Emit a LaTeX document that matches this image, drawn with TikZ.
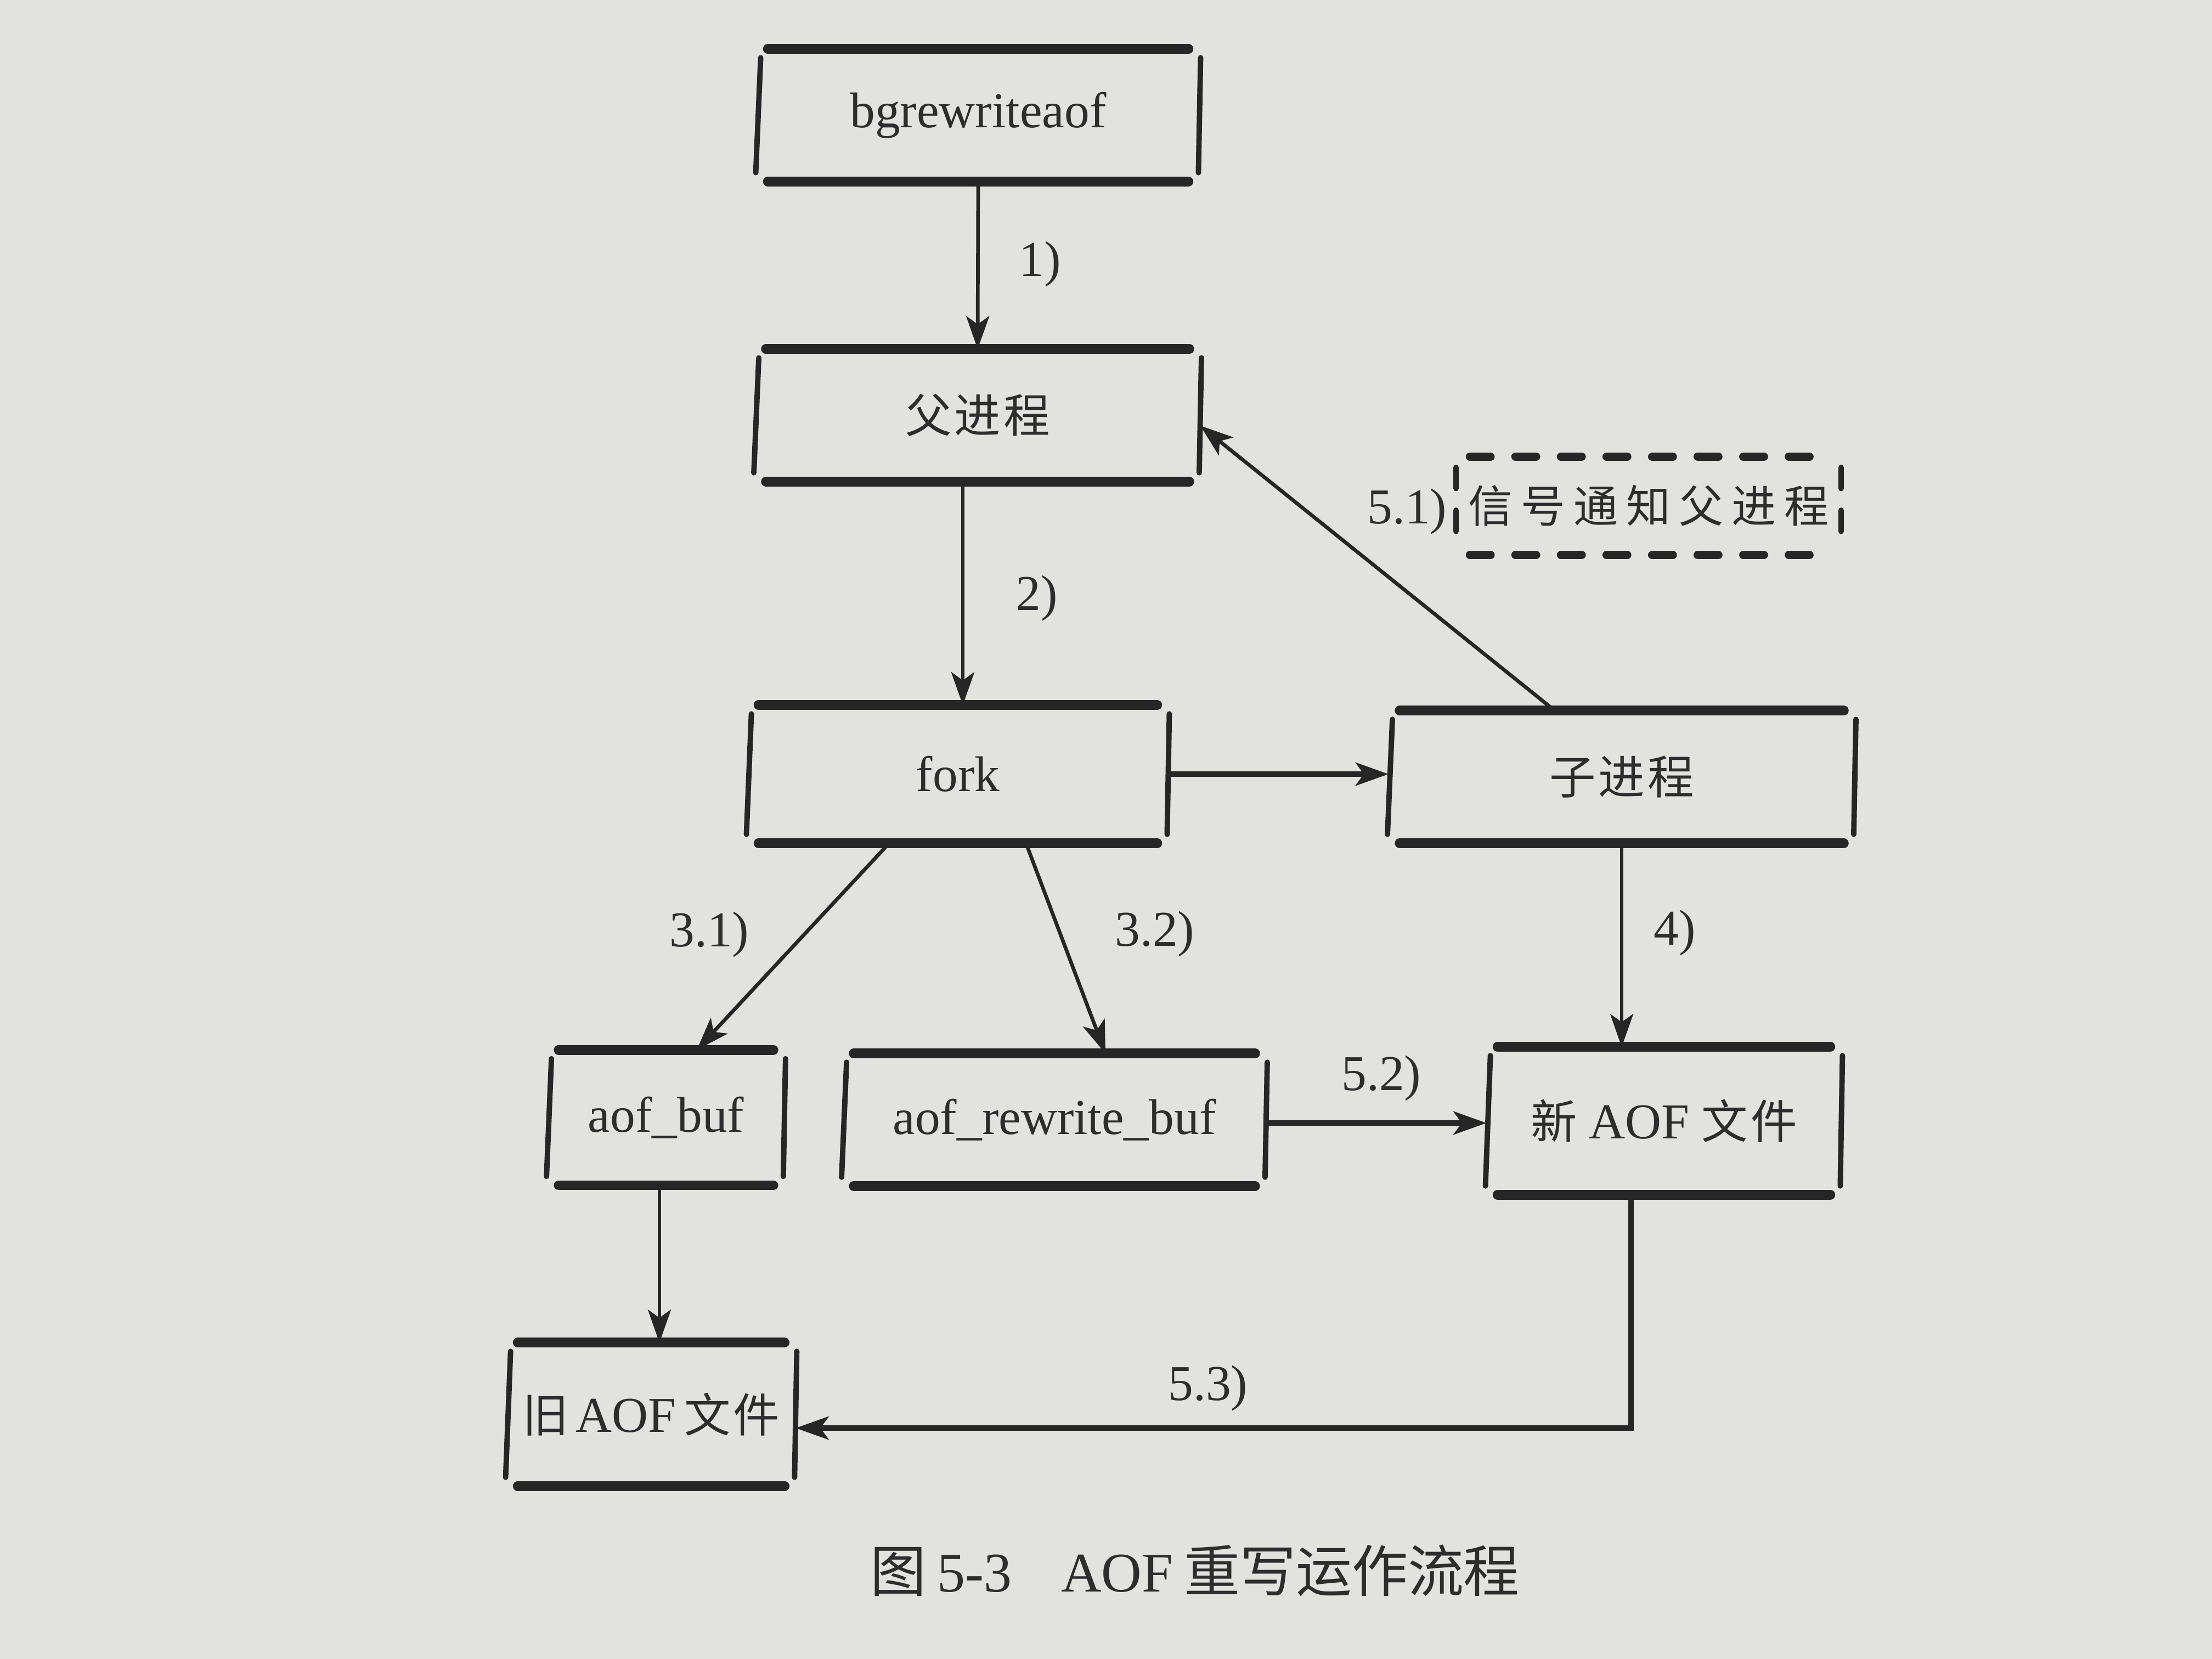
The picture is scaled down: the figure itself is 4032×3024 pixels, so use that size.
\documentclass[tikz,border=0pt]{standalone}
\usepackage{fontspec}
\setmainfont{Liberation Serif}
\newfontfamily\cjk{Noto Sans CJK SC}
\usetikzlibrary{arrows.meta,calc}
\definecolor{paper}{RGB}{226,226,223}
\definecolor{ink}{RGB}{38,38,38}
\definecolor{txt}{RGB}{45,45,45}
\newcommand\zgap{\hspace{0.05cm}}
\newcommand\zhf{\cjk\fontsize{24}{28}\selectfont}
\begin{document}
\begin{tikzpicture}[x=0.01cm,y=-0.01cm,
  box/.style={draw=none, inner sep=0pt, text=txt, font=\fontsize{26}{30}\selectfont},
  bar/.style={draw=ink, line width=5pt, line cap=round},
  side/.style={draw=ink, line width=2.8pt, line cap=round},
  dbar/.style={draw=ink, line width=4.2pt, dash pattern=on 0.38cm off 0.45cm, line cap=round},
  dside/.style={draw=ink, line width=3pt, dash pattern=on 0.38cm off 0.4cm, line cap=round},
  arr/.style={draw=ink, line width=1.9pt, -{Stealth[length=0.6cm,width=0.42cm,inset=0.15cm]}},
  arrthick/.style={arr, line width=2.8pt},
  lbl/.style={text=txt, font=\fontsize{26}{30}\selectfont, inner sep=0pt}
]
\fill[paper] (0,0) rectangle (4032,3024);
\useasboundingbox (0,0) rectangle (4032,3024);

% boxes
\node[box, minimum width=8.05cm, minimum height=2.4cm] (bg) at (1783,210) {bgrewriteaof};
\node[box, minimum width=8.1cm, minimum height=2.4cm] (fu) at (1782,757) {{\zhf 父\zgap 进\zgap 程}};
\node[box, minimum width=7.65cm, minimum height=2.5cm] (fork) at (1746,1411) {fork};
\node[box, minimum width=8.48cm, minimum height=2.4cm] (zi) at (2956,1416) {{\zhf 子\zgap 进\zgap 程}};
\node[box, minimum width=4.3cm, minimum height=2.45cm] (aofbuf) at (1214,2037) {aof\_buf};
\node[box, minimum width=7.7cm, minimum height=2.4cm] (aofrw) at (1922,2041) {aof\_rewrite\_buf};
\node[box, minimum width=6.45cm, minimum height=2.68cm] (new) at (3033,2043) {{\zhf 新}\hspace{0.22cm}AOF\hspace{0.22cm}{\zhf 文\zgap 件}};
\node[box, minimum width=5.25cm, minimum height=2.6cm] (old) at (1187,2578) {{\zhf 旧}\hspace{0.12cm}AOF\hspace{0.15cm}{\zhf 文\zgap 件}};
\node[box, minimum width=7.0cm, minimum height=1.78cm] (sig) at (3005,922) {{\cjk\fontsize{23}{27}\selectfont 信\hspace{0.15cm}号\hspace{0.15cm}通\hspace{0.15cm}知\hspace{0.15cm}父\hspace{0.15cm}进\hspace{0.15cm}程}};

% sketchy borders
\foreach \n in {bg,fu,fork,zi,aofbuf,aofrw,new,old} {
  \draw[bar] ([xshift=0.2cm]\n.north west) -- ([xshift=-0.2cm]\n.north east);
  \draw[bar] ([xshift=0.2cm]\n.south west) -- ([xshift=-0.2cm]\n.south east);
  \draw[side] ([shift={(0.07cm,-0.16cm)}]\n.north west) -- ([shift={(-0.02cm,0.16cm)}]\n.south west);
  \draw[side] ([shift={(0.02cm,-0.16cm)}]\n.north east) -- ([shift={(-0.02cm,0.16cm)}]\n.south east);
}
\draw[dbar] ([xshift=0.25cm]sig.north west) -- ([xshift=-0.25cm]sig.north east);
\draw[dbar] ([xshift=0.25cm]sig.south west) -- ([xshift=-0.25cm]sig.south east);
\draw[dside] ([yshift=-0.2cm]sig.north west) -- ([yshift=0.2cm]sig.south west);
\draw[dside] ([yshift=-0.2cm]sig.north east) -- ([yshift=0.2cm]sig.south east);

% connectors
\draw[arr] (bg.south) -- (fu.north);
\draw[arr] ([xshift=-0.27cm]fu.south) -- ([xshift=-0.27cm]fu.south |- fork.north);
\draw[arrthick] (fork.east) -- (fork.east -| zi.west);
\draw[arr] ([xshift=-1.25cm]fork.south) -- ([xshift=0.56cm]aofbuf.north);
\draw[arr] ([xshift=1.24cm]fork.south) -- ([xshift=0.93cm]aofrw.north);
\draw[arr] (zi.south) -- (zi.south |- new.north);
\draw[arr] ([xshift=-1.22cm]zi.north) -- ([yshift=-0.19cm]fu.east);
\draw[arrthick] ([yshift=-0.06cm]aofrw.east) -- ([yshift=-0.06cm]aofrw.east -| new.west);
\draw[arr] ([xshift=-0.12cm]aofbuf.south) -- ([xshift=-0.12cm]aofbuf.south |- old.north);
\draw[arrthick] ([xshift=-0.6cm]new.south) |- ([yshift=-0.25cm]old.east);

% labels
\node[lbl] (l1) at (1896,482) {1)};
\node[lbl] (l2) at (1890,1090) {2)};
\node[lbl] (l31) at (1293,1703) {3.1)};
\node[lbl] (l32) at (2105,1702) {3.2)};
\node[lbl] (l4) at (3053,1700) {4)};
\node[lbl] (l51) at (2565,933) {5.1)};
\node[lbl] (l52) at (2518,1965) {5.2)};
\node[lbl] (l53) at (2202,2530) {5.3)};

% caption
\node[text=txt, inner sep=0pt, font=\fontsize{29}{33}\selectfont] (cap) at (2178,2863)
  {{\cjk 图}\hspace{0.2cm}5-3\hspace{0.9cm}AOF\hspace{0.2cm}{\cjk 重写运作流程}};
\end{tikzpicture}
\end{document}
